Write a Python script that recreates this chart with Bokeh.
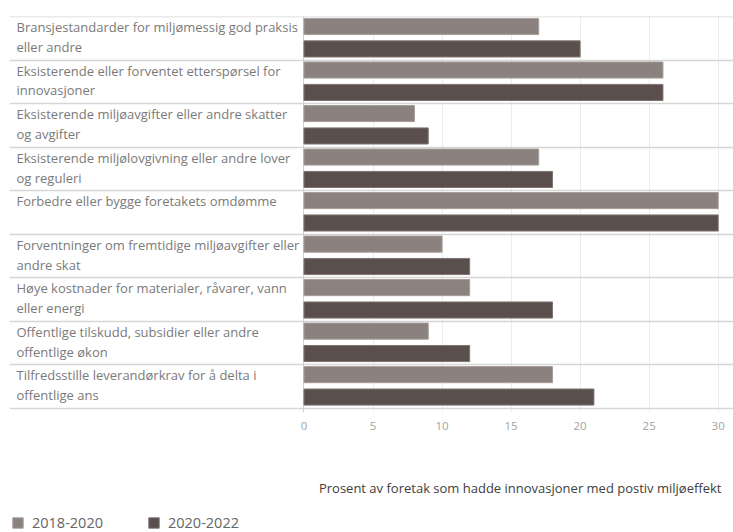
from bokeh.plotting import figure
from bokeh.layouts import column
from bokeh.models import Range1d, FixedTicker, Legend, LegendItem, Label
from bokeh.core.properties import value
from bokeh.embed import file_html
from bokeh.resources import INLINE

categories = [
    "Bransjestandarder for miljømessig god praksis\neller andre",
    "Eksisterende eller forventet etterspørsel for\ninnovasjoner",
    "Eksisterende miljøavgifter eller andre skatter\nog avgifter",
    "Eksisterende miljølovgivning eller andre lover\nog reguleri",
    "Forbedre eller bygge foretakets omdømme",
    "Forventninger om fremtidige miljøavgifter eller\nandre skat",
    "Høye kostnader for materialer, råvarer, vann\neller energi",
    "Offentlige tilskudd, subsidier eller andre\noffentlige økon",
    "Tilfredsstille leverandørkrav for å delta i\noffentlige ans",
]
series_names = ["2018-2020", "2020-2022"]
values_2018_2020 = [17, 26, 8, 17, 30, 10, 12, 9, 18]
values_2020_2022 = [20, 26, 9, 18, 30, 12, 18, 12, 21]
x_ticks = [0, 5, 10, 15, 20, 25, 30]
axis_title = "Prosent av foretak som hadde innovasjoner med postiv miljøeffekt"

FONT = "Open Sans"
C_LIGHT = "#8b817e"
C_DARK = "#5a4f4d"
LINE_LIGHT = "#a69e9b"
LINE_DARK = "#7d7472"

n = len(categories)
p = figure(frame_width=724, frame_height=396, output_backend="svg", toolbar_location=None,
           x_range=Range1d(-21.33, 31.11), y_range=Range1d(n + 0.1, 0),
           min_border_left=9, min_border_right=0, min_border_top=16, min_border_bottom=22)
p.outline_line_color = None
p.yaxis.visible = False
p.ygrid.grid_line_color = None
p.xgrid.ticker = FixedTicker(ticks=x_ticks)
p.xgrid.grid_line_color = "#ececec"
p.xaxis.ticker = FixedTicker(ticks=x_ticks)
p.xaxis.axis_line_color = None
p.xaxis.major_tick_line_color = None
p.xaxis.minor_tick_line_color = None
p.xaxis.major_label_text_font = FONT
p.xaxis.major_label_text_font_size = "11.5px"
p.xaxis.major_label_text_color = "#a3a3a3"
p.xaxis.major_label_standoff = 3

idx = list(range(n))
# row separators and pane divider
p.hspan(y=list(range(n + 1)), line_color="#d6d6d6", line_width=1.5)
p.vspan(x=[0], line_color="#d0d0d0", line_width=1)

p.hbar(y=[i + 0.23 for i in idx], right=values_2018_2020, left=0, height=0.37,
       fill_color=C_LIGHT, line_color=LINE_LIGHT, line_width=1)
p.hbar(y=[i + 0.745 for i in idx], right=values_2020_2022, left=0, height=0.37,
       fill_color=C_DARK, line_color=LINE_DARK, line_width=1)

lines = [c.split("\n") for c in categories]
line1 = [l[0] for l in lines]
line2 = [l[1] if len(l) > 1 else "" for l in lines]
x0 = p.x_range.start
p.text(x=[x0] * n, y=[i + 0.245 for i in idx], text=line1, x_offset=7,
       text_font=value(FONT), text_font_size="13px", text_color="#7a7a7a",
       text_baseline="middle", text_align="left")
p.text(x=[x0] * n, y=[i + 0.70 for i in idx], text=line2, x_offset=7,
       text_font=value(FONT), text_font_size="13px", text_color="#7a7a7a",
       text_baseline="middle", text_align="left")

# bottom strip: axis title and legend (pixel-like coordinates)
q = figure(frame_width=733, frame_height=98, output_backend="svg", toolbar_location=None,
           x_range=Range1d(0, 733), y_range=Range1d(98, 0),
           x_axis_type=None, y_axis_type=None,
           min_border_left=0, min_border_right=0, min_border_top=0, min_border_bottom=0)
q.outline_line_color = None
q.grid.visible = False

q.add_layout(Label(x=712, y=53, text=axis_title, text_align="right", text_baseline="middle",
                   text_font=FONT, text_font_size="13px", text_color="#404040"))

# zero-size bars that only serve as legend swatches
k1 = q.hbar(y=[0], right=[0], left=[0], height=0, fill_color=C_LIGHT, line_color=LINE_LIGHT, line_width=1)
k2 = q.hbar(y=[0], right=[0], left=[0], height=0, fill_color=C_DARK, line_color=LINE_DARK, line_width=1)
legend = Legend(items=[LegendItem(label=series_names[0], renderers=[k1]),
                       LegendItem(label=series_names[1], renderers=[k2])],
                orientation="horizontal", location=(11, 0),
                glyph_width=13, glyph_height=13, label_standoff=8, spacing=44,
                label_text_font=FONT, label_text_font_size="14.5px", label_text_color="#666666",
                border_line_color=None, background_fill_alpha=0, padding=0, margin=0)
q.add_layout(legend)

layout = column(p, q, spacing=0)
open("out.html", "w").write(file_html(layout, INLINE))
